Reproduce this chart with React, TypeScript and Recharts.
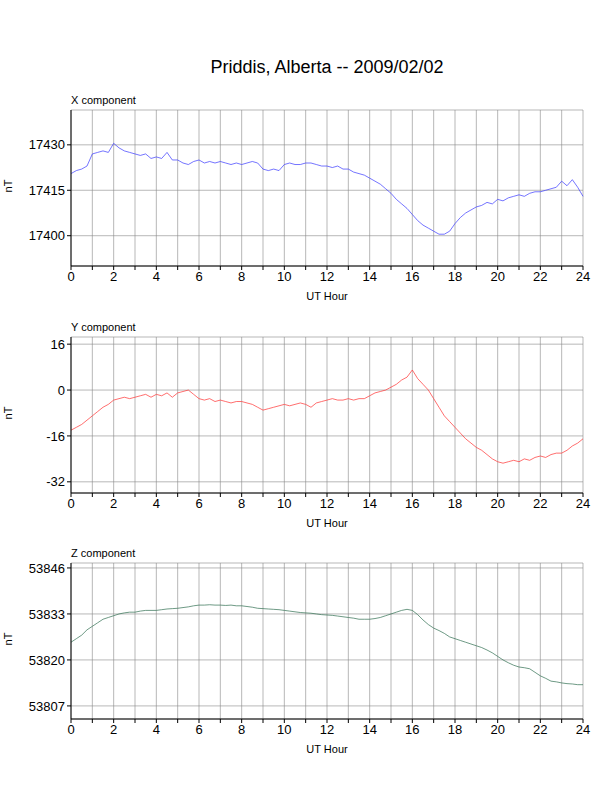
import { LineChart, Line, XAxis, YAxis, CartesianGrid } from "recharts"

const hours = Array.from({ length: 97 }, (_, i) => i / 4)
const hourTicks = Array.from({ length: 25 }, (_, i) => i)

const xValues = [
  17420.5, 17421.5, 17422, 17423, 17427, 17427.5, 17428, 17427.5, 17430.5, 17429, 17428, 17427.5,
  17427, 17426.5, 17427, 17425.5, 17426, 17425.5, 17427.5, 17425, 17425, 17424, 17423.5, 17424.5,
  17425, 17424, 17424.5, 17424, 17424.5, 17424, 17423.5, 17424, 17423.5, 17424, 17424.5, 17424,
  17422, 17421.5, 17422, 17421.5, 17423.5, 17424, 17423.5, 17423.5, 17424, 17424, 17423.5, 17423,
  17423, 17422.5, 17423, 17422, 17422, 17421, 17420.5, 17420, 17419, 17418, 17417, 17415.5,
  17414, 17412, 17410.5, 17409, 17407, 17405, 17403.5, 17402.5, 17401.5, 17400.5, 17400.5, 17401.5,
  17404, 17406, 17407.5, 17408.5, 17409.5, 17410, 17411, 17410.5, 17412, 17411.5, 17412.5, 17413,
  17413.5, 17413, 17414, 17414.5, 17414.5, 17415, 17415.5, 17416, 17418, 17416.5, 17418.5, 17416, 17413,
]
const yValues = [
  -14, -13, -12, -10.5, -9, -7.5, -6, -5, -3.5, -3, -2.5, -3, -2.5, -2, -1.5, -2.5, -1.5, -2, -1, -2.5,
  -1, -0.5, 0, -1.5, -3, -3.5, -3, -4, -3.5, -4, -4.5, -4, -4, -4.5, -5, -6, -7, -6.5, -6, -5.5,
  -5, -5.5, -5, -4.5, -5, -6, -4.5, -4, -3.5, -3, -3.5, -3.5, -3, -3.5, -3, -3, -2, -1, -0.5, 0,
  1, 2, 3.5, 4.5, 7, 4, 2, 0, -3, -6, -9, -11, -13, -15, -17, -18.5, -20, -21, -22.5, -24,
  -25, -25.5, -25, -24.5, -25, -24, -24.5, -23.5, -23, -23.5, -22.5, -22, -22, -21, -19.5, -18.5, -17,
]
const zValues = [
  53825, 53826, 53827, 53828.5, 53829.5, 53830.5, 53831.5, 53832, 53832.5, 53833, 53833.3, 53833.5,
  53833.5, 53833.8, 53834, 53834, 53834, 53834.2, 53834.4, 53834.5, 53834.6, 53834.8, 53835, 53835.3,
  53835.5, 53835.5, 53835.6, 53835.5, 53835.5, 53835.4, 53835.5, 53835.3, 53835.3, 53835.1, 53834.9, 53834.6,
  53834.5, 53834.4, 53834.3, 53834.2, 53834, 53833.8, 53833.6, 53833.4, 53833.3, 53833.2, 53833, 53832.8,
  53832.7, 53832.6, 53832.4, 53832.2, 53832, 53831.8, 53831.5, 53831.5, 53831.5, 53831.7, 53832, 53832.5,
  53833, 53833.5, 53834, 53834.3, 53834, 53832.8, 53831.3, 53830, 53829, 53828.3, 53827.5, 53826.5,
  53826, 53825.5, 53825, 53824.5, 53824, 53823.5, 53822.8, 53822, 53821, 53820, 53819.2, 53818.5,
  53818, 53817.8, 53817.5, 53816.5, 53815.5, 53814.8, 53814, 53813.8, 53813.5, 53813.3, 53813.2, 53813, 53813,
]

const font = "'Liberation Sans', Arial, sans-serif"

function minorTicks(lo: number, hi: number, step: number) {
  const out: number[] = []
  for (let v = Math.ceil(lo / step) * step; v <= hi; v += step) out.push(v)
  return out
}

interface PanelProps {
  top: number
  title: string
  values: number[]
  color: string
  domain: [number, number]
  ticks: number[]
  minor: number
}

function Panel({ top, title, values, color, domain, ticks, minor }: PanelProps) {
  const data = hours.map((h, i) => ({ h, v: values[i] }))
  const minors = minorTicks(domain[0], domain[1], minor)
  return (
    <div style={{ position: "absolute", left: 0, top: top - 10 }}>
      <LineChart width={612} height={156 + 10 + 40} data={data} margin={{ top: 10, right: 29, bottom: 20, left: 11 }}>
        <CartesianGrid stroke="#888" strokeWidth={0.6} verticalPoints={undefined} horizontal vertical />
        <XAxis
          dataKey="h" type="number" domain={[0, 24]} ticks={hourTicks} interval={0}
          tickFormatter={(t: number) => (t % 2 === 0 ? String(t) : "")}
          stroke="#000" tickSize={4} height={20}
          tick={{ fill: "#000", fontSize: 13, fontFamily: font }}
        />
        <XAxis xAxisId="top" orientation="top" dataKey="h" type="number" domain={[0, 24]} ticks={[]} stroke="#000" strokeWidth={2} height={0} />
        <YAxis
          domain={domain} ticks={ticks} interval={0} allowDataOverflow width={60} stroke="#000" tickSize={4}
          tick={{ fill: "#000", fontSize: 13, fontFamily: font }}
        />
        <YAxis yAxisId="minor" domain={domain} ticks={minors} interval={0} allowDataOverflow width={0} stroke="#000" tickSize={3} tick={false} axisLine={false} />
        <YAxis yAxisId="right" orientation="right" domain={domain} ticks={minors} interval={0} allowDataOverflow width={0} stroke="#000" tickSize={3} tick={false} />
        <Line dataKey="v" stroke={color} strokeWidth={0.7} dot={false} isAnimationActive={false} />
      </LineChart>
      <div style={{ position: "absolute", left: 71, top: -6, fontSize: 11, fontFamily: font }}>{title}</div>
      <div style={{ position: "absolute", left: 2, top: 10 + 78 - 8, fontSize: 11, fontFamily: font, transform: "rotate(-90deg)" }}>nT</div>
      <div style={{ position: "absolute", left: 0, width: 654, textAlign: "center", top: 10 + 156 + 24, fontSize: 11, fontFamily: font }}>UT Hour</div>
    </div>
  )
}

export default function App() {
  return (
    <div style={{ position: "absolute", left: 0, top: 0, width: 612, height: 792, background: "#fff" }}>
      <div style={{ position: "absolute", left: 0, width: 654, textAlign: "center", top: 57, fontSize: 18, fontFamily: font }}>
        Priddis, Alberta -- 2009/02/02
      </div>
      <Panel top={110} title="X component" values={xValues} color="#3a3aff" domain={[17390, 17441.5]} ticks={[17400, 17415, 17430]} minor={3} />
      <Panel top={337} title="Y component" values={yValues} color="#ff3030" domain={[-35.9, 18.5]} ticks={[-32, -16, 0, 16]} minor={4} />
      <Panel top={563} title="Z component" values={zValues} color="#2f6f50" domain={[53803.3, 53847.4]} ticks={[53807, 53820, 53833, 53846]} minor={2.6} />
    </div>
  )
}
